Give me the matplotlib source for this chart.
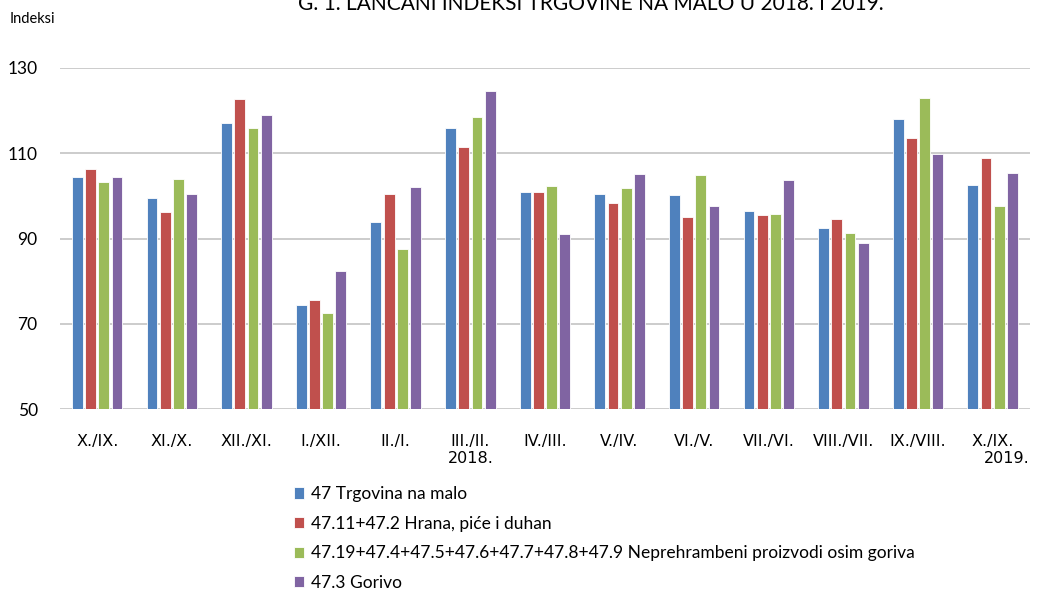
import numpy as np
import matplotlib
matplotlib.use('Agg')
import matplotlib.pyplot as plt

categories = ['X./IX.', 'XI./X.', 'XII./XI.', 'I./XII.', 'II./I.', 'III./II.', 'IV./III.',
              'V./IV.', 'VI./V.', 'VII./VI.', 'VIII./VII.', 'IX./VIII.', 'X./IX.']
trgovina = [104.5, 99.4, 117.0, 74.5, 93.9, 115.8, 101.0, 100.4, 100.1, 96.4, 92.5, 118.0, 102.6]
hrana = [106.2, 96.1, 122.6, 75.6, 100.4, 111.5, 101.0, 98.2, 95.0, 95.6, 94.5, 113.5, 108.8]
neprehrambeni = [103.2, 103.9, 115.9, 72.6, 87.5, 118.5, 102.3, 101.8, 104.8, 95.8, 91.4, 122.8, 97.7]
gorivo = [104.5, 100.4, 118.9, 82.4, 102.1, 124.5, 91.0, 105.0, 97.5, 103.6, 88.9, 109.9, 105.3]

series = [
    ('47 Trgovina na malo', trgovina, '#4F81BD'),
    ('47.11+47.2 Hrana, piće i duhan', hrana, '#C0504D'),
    ('47.19+47.4+47.5+47.6+47.7+47.8+47.9 Neprehrambeni proizvodi osim goriva', neprehrambeni, '#9BBB59'),
    ('47.3 Gorivo', gorivo, '#8064A2'),
]

plt.rcParams['font.family'] = ['Lato', 'DejaVu Sans']
narrow = ['Liberation Sans Narrow', 'DejaVu Sans']

fig = plt.figure(figsize=(10.61, 5.95), dpi=100)
ax = fig.add_axes([0.0565, 0.3121, 0.9142, 0.5741])

x = np.arange(len(categories))
pitch = 0.177
for i, (name, vals, col) in enumerate(series):
    ax.bar(x + (i - 1.5) * pitch, np.array(vals) - 50, bottom=50, width=0.145,
           color=col, edgecolor='white', linewidth=0.6, label=name, zorder=3)

ax.set_xlim(-0.5, len(categories) - 0.5)
ax.set_ylim(50, 130)
ax.set_yticks([50, 70, 90, 110, 130])
ax.yaxis.grid(True, color='#C8C8C8', linewidth=1.3, zorder=0)
for s in ax.spines.values():
    s.set_visible(False)
ax.tick_params(axis='both', length=0)
ax.tick_params(axis='y', labelsize=12.5, pad=16)
ax.set_xticks(x)
ax.set_xticklabels(categories, fontsize=11.5, family=narrow)
ax.tick_params(axis='x', pad=18)

# title is clipped at the top edge, as in the source image
fig.text(0.557, 0.993, 'G. 1. LANČANI INDEKSI TRGOVINE NA MALO U 2018. I 2019.',
         ha='center', va='center', fontsize=15)
fig.text(0.009, 0.968, 'Indeksi', ha='left', va='center', fontsize=10.5)
blend = matplotlib.transforms.blended_transform_factory(ax.transData, fig.transFigure)
fig.text(x[5], 0.229, '2018.', ha='center', va='center', fontsize=11.5,
         family=narrow, transform=blend)
fig.text(0.9708, 0.229, '2019.', ha='right', va='center', fontsize=11.5, family=narrow)

fig.legend(loc='upper left', bbox_to_anchor=(0.277, 0.183), frameon=False,
           fontsize=12.5, handlelength=0.6, handleheight=0.6, handletextpad=0.4,
           labelspacing=0.78, borderpad=0, borderaxespad=0)

fig.savefig('out.png', dpi=100)
